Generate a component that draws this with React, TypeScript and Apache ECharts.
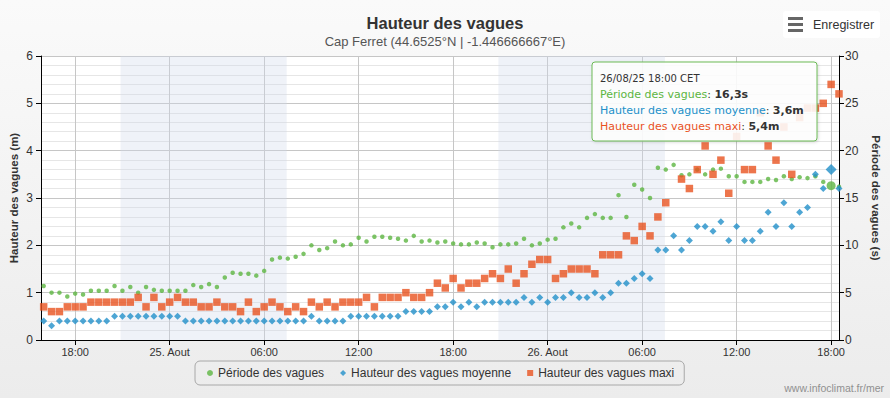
import React, { useEffect, useRef } from "react";
import * as echarts from "echarts";

// hours since 24/08/25 00:00 ; readings every 30 minutes
const START_HOUR = 16;
const STEP_HOURS = 0.5;

// Période des vagues (s)
const period = [
  5.7, 5.0, 5.0, 4.6, 4.9, 4.8, 5.2, 5.2, 5.2, 5.7,
  5.2, 5.6, 5.0, 5.6, 5.3, 5.2, 5.2, 5.2, 5.2, 5.8,
  5.6, 5.9, 5.6, 6.6, 7.1, 7.0, 7.0, 6.8, 7.3, 8.5,
  8.7, 8.6, 8.8, 9.1, 10.0, 9.5, 9.7, 10.4, 10.0, 10.1,
  10.8, 10.4, 10.9, 10.9, 10.8, 10.7, 10.5, 11.0, 10.4, 10.5,
  10.3, 10.4, 10.2, 10.1, 10.1, 10.3, 10.2, 9.8, 10.1, 10.1,
  10.2, 10.7, 10.0, 10.2, 10.6, 10.7, 11.9, 12.3, 11.9, 12.9,
  13.3, 12.9, 12.9, 15.3, 13.0, 16.4, 15.9, 15.0, 18.2, 18.0,
  18.5, 17.4, 17.5, 18.0, 17.5, 18.0, 18.1, 17.3, 17.3, 16.7,
  16.7, 16.7, 17.0, 16.9, 17.3, 17.0, 17.2, 17.1, 17.3, 16.7,
  16.3, 16.2,
];

// Hauteur des vagues moyenne (m)
const meanHeight = [
  0.4, 0.3, 0.4, 0.4, 0.4, 0.4, 0.4, 0.4, 0.4, 0.5,
  0.5, 0.5, 0.5, 0.5, 0.5, 0.5, 0.5, 0.5, 0.4, 0.4,
  0.4, 0.4, 0.4, 0.4, 0.4, 0.4, 0.4, 0.4, 0.4, 0.4,
  0.4, 0.4, 0.4, 0.4, 0.5, 0.4, 0.4, 0.4, 0.4, 0.5,
  0.5, 0.5, 0.5, 0.5, 0.5, 0.5, 0.6, 0.6, 0.6, 0.6,
  0.7, 0.7, 0.8, 0.7, 0.8, 0.7, 0.8, 0.8, 0.8, 0.8,
  0.8, 0.9, 0.8, 0.9, 0.8, 0.9, 0.9, 1.0, 0.9, 0.9,
  1.0, 0.9, 1.0, 1.2, 1.2, 1.3, 1.4, 1.3, 1.9, 1.9,
  2.2, 1.9, 2.1, 2.4, 2.4, 2.3, 2.5, 2.1, 2.4, 2.1,
  2.1, 2.3, 2.7, 2.4, 2.9, 2.4, 2.7, 2.8, 3.5, 3.2,
  3.6, 3.2,
];

// Hauteur des vagues maxi (m)
const maxHeight: (number | null)[] = [
  0.7, 0.6, 0.6, 0.7, 0.7, 0.7, 0.8, 0.8, 0.8, 0.8,
  0.8, 0.8, 0.9, 0.7, 0.9, 0.7, 0.8, 0.9, 0.8, 0.8,
  0.7, 0.7, 0.8, 0.7, 0.7, 0.6, 0.8, 0.6, 0.7, 0.8,
  0.7, 0.6, 0.7, 0.6, 0.8, 0.7, 0.8, 0.7, 0.8, 0.8,
  0.8, 0.9, 0.7, 0.9, 0.9, 0.9, 1.0, 0.9, 0.9, 1.0,
  1.2, 1.1, 1.3, 1.1, 1.2, 1.2, 1.3, 1.4, 1.3, 1.5,
  1.2, 1.4, 1.6, 1.7, 1.7, 1.3, 1.4, 1.5, 1.5, 1.5,
  1.4, 1.8, 1.8, 1.8, 2.2, 2.1, 2.4, 2.2, 2.6, 2.9,
  null, 3.4, 3.2, 3.6, 4.1, 3.5, 3.8, 3.1, 4.3, 3.6,
  3.6, 4.8, 4.1, 3.8, 4.5, 3.5, 4.7, 4.9, 4.9, 5.0,
  5.4, 5.2,
];

// x-axis tick positions (hours since 24/08 00:00)
const xTicks = [18, 24, 30, 36, 42, 48, 54, 60, 66];
// nights (sunset -> sunrise), hours since 24/08 00:00
const nightBands = [
  [20.88, 31.43],
  [44.87, 55.45],
];
const X_MIN = 15.83;
const X_MAX = 66.5;
const hoverIndex = 100;

const GREEN = "#5cb541";
const BLUE = "#2290c9";
const ORANGE = "#e9521f";
const SANS = "'Liberation Sans', Arial, sans-serif";
const TIP = "'DejaVu Sans', Verdana, sans-serif";

const timeOf = (i: number) => START_HOUR + i * STEP_HOURS;
const pad = (n: number) => (n < 10 ? "0" + n : "" + n);
const fmt = (v: number) => v.toFixed(1).replace(".", ",");

export default function App() {
  const ref = useRef<HTMLDivElement>(null);
  useEffect(() => {
    if (!ref.current) return;
    const chart = echarts.init(ref.current, undefined, { renderer: "svg" });

    const mk = (arr: (number | null)[], big: number) =>
      arr
        .map((v, i) =>
          v == null ? null : i === hoverIndex && big ? { value: [timeOf(i), v], symbolSize: big } : [timeOf(i), v]
        )
        .filter((d) => d != null);

    const tHover = timeOf(hoverIndex);
    const day = 24 + Math.floor(tHover / 24);
    const hour = tHover % 24;
    const dateLabel = `${pad(day)}/08/25 ${pad(Math.floor(hour))}:${hour % 1 ? "30" : "00"} CET`;

    const TZ = 100;
    const tipLine = (label: string, color: string, value: string, y: number) => ({
      type: "text",
      x: 8,
      y,
      z: TZ + 1,
      style: {
        text: `{l|${label}}{d|: }{b|${value}}`,
        verticalAlign: "middle",
        rich: {
          l: { fill: color, fontSize: 11, fontFamily: TIP },
          d: { fill: "#333", fontSize: 11, fontFamily: TIP },
          b: { fill: "#333", fontSize: 11, fontFamily: TIP, fontWeight: "bold" },
        },
      },
    });

    const option: any = {
      animation: false,
      backgroundColor: new echarts.graphic.LinearGradient(0, 0, 0, 1, [
        { offset: 0, color: "#fafafa" },
        { offset: 1, color: "#ececec" },
      ]),
      title: {
        text: "Hauteur des vagues",
        subtext: "Cap Ferret (44.6525°N | -1.446666667°E)",
        left: "center",
        top: 9,
        itemGap: 4,
        textStyle: { fontFamily: SANS, fontSize: 16.5, fontWeight: "bold", color: "#333" },
        subtextStyle: { fontFamily: SANS, fontSize: 13, color: "#555" },
      },
      legend: {
        left: 195,
        top: 361,
        itemWidth: 6,
        itemHeight: 6,
        itemGap: 16,
        padding: [6, 10, 6, 12],
        borderColor: "#a8a8a8",
        borderWidth: 1,
        borderRadius: 5,
        textStyle: { fontFamily: SANS, fontSize: 12, color: "#333" },
        data: ["Période des vagues", "Hauteur des vagues moyenne", "Hauteur des vagues maxi"],
      },
      grid: {
        left: 41,
        right: 51,
        top: 56,
        bottom: 58,
        show: true,
        backgroundColor: "#fff",
        borderWidth: 0,
        outerBoundsMode: "none",
        containLabel: false,
      },
      xAxis: {
        type: "value",
        min: X_MIN,
        max: X_MAX,
        axisLine: { show: true, onZero: false, lineStyle: { color: "#000", width: 1 } },
        axisTick: { show: true, customValues: xTicks, length: 5, lineStyle: { color: "#000" } },
        axisLabel: {
          customValues: xTicks,
          margin: 6,
          fontFamily: SANS,
          fontSize: 11,
          color: "#333",
          formatter: (v: number) => {
            const h = Math.round(v) % 24;
            const d = 24 + Math.floor(Math.round(v) / 24);
            return h === 0 ? `${d}. Aout` : `${pad(h)}:00`;
          },
        },
        splitLine: { show: true, lineStyle: { color: "#c6c6c6" } },
      },
      yAxis: [
        {
          type: "value",
          min: 0,
          max: 6,
          interval: 1,
          position: "left",
          name: "Hauteur des vagues (m)",
          nameLocation: "middle",
          nameGap: 21,
          nameRotate: 90,
          nameMoveOverlap: false,
          nameTextStyle: { fontFamily: SANS, fontSize: 11.5, fontWeight: "bold", color: "#333" },
          axisLine: { show: true, lineStyle: { color: "#000" } },
          axisTick: { show: true, length: 5, lineStyle: { color: "#000" } },
          axisLabel: { fontFamily: SANS, fontSize: 12, color: "#333", margin: 8 },
          splitLine: { show: true, lineStyle: { color: "#c6c6c6" } },
          minorTick: { show: false, splitNumber: 5 },
          minorSplitLine: { show: true, lineStyle: { color: "#e6e6e6" } },
        },
        {
          type: "value",
          min: 0,
          max: 30,
          interval: 5,
          position: "right",
          name: "Période des vagues (s)",
          nameLocation: "middle",
          nameGap: 31,
          nameRotate: -90,
          nameMoveOverlap: false,
          nameTextStyle: { fontFamily: SANS, fontSize: 11.5, fontWeight: "bold", color: "#333" },
          axisLine: { show: true, lineStyle: { color: "#000" } },
          axisTick: { show: true, length: 5, lineStyle: { color: "#000" } },
          axisLabel: { fontFamily: SANS, fontSize: 12, color: "#333", margin: 6 },
          splitLine: { show: false },
        },
      ],
      series: [
        {
          name: "Période des vagues",
          type: "scatter",
          yAxisIndex: 1,
          symbol: "circle",
          symbolSize: 4.5,
          itemStyle: { color: GREEN },
          data: mk(period, 9),
          markArea: {
            silent: true,
            itemStyle: { color: "rgba(205,215,235,0.33)" },
            data: nightBands.map(([a, b]) => [{ xAxis: a }, { xAxis: b }]),
          },
        },
        {
          name: "Hauteur des vagues moyenne",
          type: "scatter",
          yAxisIndex: 0,
          symbol: "diamond",
          symbolSize: 7,
          itemStyle: { color: BLUE },
          data: mk(meanHeight, 11),
        },
        {
          name: "Hauteur des vagues maxi",
          type: "scatter",
          yAxisIndex: 0,
          symbol: "rect",
          symbolSize: 7.5,
          itemStyle: { color: ORANGE },
          data: mk(maxHeight, 0),
        },
      ],
      graphic: [
        {
          type: "group",
          x: 783,
          y: 11,
          children: [
            { type: "rect", shape: { x: 0, y: 0, width: 97, height: 27, r: 3 }, style: { fill: "#ffffff" } },
            { type: "rect", shape: { x: 5, y: 6, width: 15, height: 3 }, style: { fill: "#666" } },
            { type: "rect", shape: { x: 5, y: 12, width: 15, height: 3 }, style: { fill: "#666" } },
            { type: "rect", shape: { x: 5, y: 18, width: 15, height: 3 }, style: { fill: "#666" } },
            {
              type: "text",
              x: 30,
              y: 14,
              style: { text: "Enregistrer", fontFamily: SANS, fontSize: 12.5, fill: "#333", verticalAlign: "middle" },
            },
          ],
        },
        {
          type: "text",
          right: 6,
          bottom: 5,
          style: { text: "www.infoclimat.fr/mer", fontFamily: SANS, fontSize: 10.5, fill: "#909090" },
        },
        {
          type: "group",
          x: 592,
          y: 62,
          z: TZ,
          children: [
            {
              type: "rect",
              z: TZ,
              shape: { x: 0, y: 0, width: 225, height: 79, r: 3 },
              style: {
                fill: "rgba(255,255,255,0.87)",
                stroke: "#6cba57",
                lineWidth: 1,
                shadowBlur: 3,
                shadowOffsetX: 1,
                shadowOffsetY: 1,
                shadowColor: "rgba(0,0,0,0.15)",
              },
            },
            {
              type: "text",
              x: 8,
              y: 16,
              z: TZ + 1,
              style: { text: dateLabel, fontFamily: TIP, fontSize: 10, fill: "#333", verticalAlign: "middle" },
            },
            tipLine("Période des vagues", GREEN, fmt(period[hoverIndex]) + "s", 32),
            tipLine("Hauteur des vagues moyenne", BLUE, fmt(meanHeight[hoverIndex]) + "m", 48),
            tipLine("Hauteur des vagues maxi", ORANGE, fmt(maxHeight[hoverIndex] as number) + "m", 64),
          ],
        },
      ],
    };
    chart.setOption(option);
    return () => chart.dispose();
  }, []);
  return <div ref={ref} style={{ position: "fixed", left: 0, top: 0, width: 890, height: 398 }} />;
}
